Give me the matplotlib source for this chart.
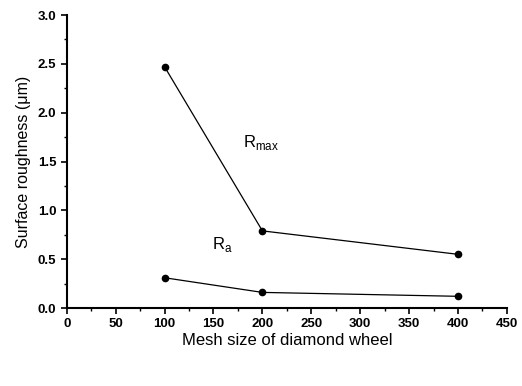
import matplotlib
matplotlib.use("Agg")
import matplotlib.pyplot as plt
from matplotlib.ticker import MultipleLocator, FormatStrFormatter

plt.rcParams['font.family'] = ['Liberation Sans', 'DejaVu Sans']

mesh = [100, 200, 400]
r_max = [2.47, 0.79, 0.55]
r_a = [0.31, 0.16, 0.12]

fig = plt.figure(figsize=(5.22, 3.86), dpi=100)
ax = fig.add_axes([0.128, 0.202, 0.843, 0.759])

ax.plot(mesh, r_max, color='black', lw=0.9, marker='o', ms=4.5)
ax.plot(mesh, r_a, color='black', lw=0.9, marker='o', ms=4.5)

ax.text(180, 1.70, r'R$_{\mathregular{max}}$', fontsize=12, ha='left', va='center')
ax.text(148, 0.65, r'R$_{\mathregular{a}}$', fontsize=12, ha='left', va='center')

ax.set_xlim(0, 450)
ax.set_ylim(0, 3.0)
ax.xaxis.set_major_locator(MultipleLocator(50))
ax.xaxis.set_minor_locator(MultipleLocator(25))
ax.yaxis.set_major_locator(MultipleLocator(0.5))
ax.yaxis.set_minor_locator(MultipleLocator(0.25))
ax.xaxis.set_major_formatter(FormatStrFormatter('%d'))
ax.yaxis.set_major_formatter(FormatStrFormatter('%.1f'))

for s in ('top', 'right'):
    ax.spines[s].set_visible(False)
for s in ('left', 'bottom'):
    ax.spines[s].set_linewidth(1.5)

ax.tick_params(which='major', direction='out', length=4, width=1.2, labelsize=9.5)
ax.tick_params(which='minor', direction='out', length=2, width=1)
for lab in ax.get_xticklabels() + ax.get_yticklabels():
    lab.set_fontweight('bold')

ax.set_xlabel('Mesh size of diamond wheel', fontsize=12, labelpad=2)
ax.set_ylabel('Surface roughness (\u03bcm)', fontsize=11.5, labelpad=5)

fig.savefig('out.png', dpi=100, facecolor='white')
